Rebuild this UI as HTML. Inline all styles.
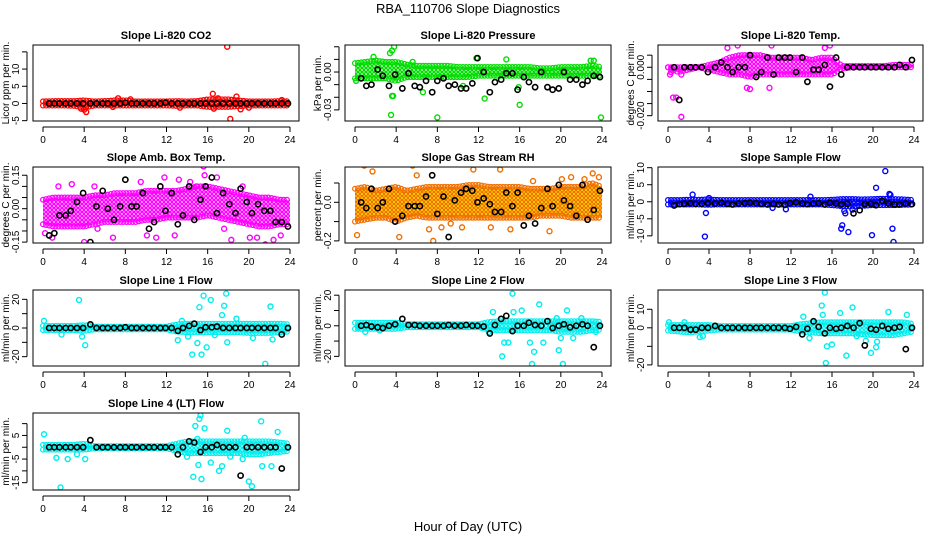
<!DOCTYPE html>
<html><head><meta charset="utf-8"><style>
body{margin:0;background:#fff}
svg{display:block;font-family:"Liberation Sans",sans-serif}
</style></head><body>
<svg id="chart" width="936" height="540" viewBox="0 0 936 540" xmlns="http://www.w3.org/2000/svg">
<rect width="936" height="540" fill="#fff"/>
<text x="468" y="13" text-anchor="middle" font-size="13">RBA_110706  Slope Diagnostics</text>
<text x="468" y="531" text-anchor="middle" font-size="13">Hour of Day (UTC)</text>
</svg>
<script>
const hours = [0,1,2,3,4,5,6,7,8,9,10,11,12,13,14,15,16,17,18,19,20,21,22,23,24];
const blackHours = [0.6,1.1,1.6,2.2,2.7,3.3,3.9,4.6,5.2,5.8,6.3,6.9,7.5,8.0,8.6,9.1,9.7,10.3,10.8,11.4,11.9,12.5,13.1,13.6,14.2,14.7,15.3,15.8,16.4,16.9,17.5,18.1,18.7,19.2,19.8,20.3,20.9,21.5,22.1,22.6,23.2,23.8];
const xTicks = [0,4,8,12,16,20,24];

// Panel 1: CO2
const co2Lo = [-0.6,-0.6,-0.6,-0.7,-1.2,-0.6,-0.6,-0.6,-0.6,-0.6,-0.6,-0.6,-0.6,-0.7,-0.6,-0.6,-1.0,-1.0,-1.0,-0.8,-0.6,-0.6,-0.6,-0.6,-0.6];
const co2Hi = [0.6,0.7,0.7,0.7,0.9,0.6,0.7,0.9,0.9,0.6,0.6,0.6,0.6,0.7,0.6,0.7,1.2,1.2,1.2,0.9,0.6,0.6,0.6,0.7,0.6];
const co2OutX = [17.9,18.2,16.5,4.2,4.0,3.7,7.3,8.5,18.8,19.2,16.6,13.3,23.2,20.0,6.8,17.0];
const co2OutY = [16.5,-4.5,2.8,-2.5,-1.8,-1.5,1.5,1.2,2.0,-1.7,-1.5,-1.2,1.0,-1.2,-1.0,1.5];
const co2Black = [0,0,0,0,0,0,0,0,0,0,0,0,0,0.2,0,0,0,0,0,0,0.2,0,0,0,0,0,0,0,0,0,0,0,0,0,0,0,0,0,0,0,0,0];

// Panel 2: Pressure
const prLo = [-0.005,-0.005,-0.005,-0.005,-0.007,-0.004,-0.004,-0.004,-0.004,-0.004,-0.004,-0.004,-0.003,-0.003,-0.003,-0.003,-0.003,-0.003,-0.003,-0.003,-0.003,-0.003,-0.003,-0.003,-0.003];
const prHi = [0.007,0.008,0.009,0.008,0.008,0.006,0.005,0.005,0.005,0.005,0.004,0.004,0.004,0.004,0.004,0.004,0.004,0.004,0.003,0.003,0.004,0.004,0.004,0.005,0.004];
const prOutX = [3.5,8.0,23.9,16.0,12.6,3.6,3.7,3.6,3.8,11.8,14.7,6.6,0.1,23.2,22.9,1.8,3.4,15.9,10.5,5.6];
const prOutY = [-0.034,-0.036,-0.036,-0.026,-0.021,-0.019,-0.019,0.017,0.020,0.011,0.010,-0.016,-0.007,0.009,0.009,0.012,0.015,-0.012,-0.011,0.008];
const prBlack = [-0.005,-0.011,-0.01,0.002,-0.003,-0.011,-0.002,-0.013,-0.001,-0.011,-0.012,-0.007,-0.016,-0.007,-0.005,-0.011,-0.01,-0.013,-0.013,-0.009,0.011,0,-0.016,-0.008,-0.006,-0.001,-0.001,-0.014,-0.004,-0.008,-0.012,0,-0.012,-0.014,-0.013,0,-0.006,-0.006,-0.01,-0.007,-0.003,-0.004];

// Panel 3: Li-820 Temp
const tLo = [0,-0.002,-0.001,0,-0.001,-0.002,-0.003,-0.003,-0.004,-0.003,-0.003,-0.003,-0.003,-0.003,-0.003,-0.003,-0.003,-0.0005,0,0,0,0,0,0,0];
const tHi = [0,0,0,0,0.001,0.002,0.004,0.005,0.005,0.005,0.004,0.004,0.004,0.004,0.003,0.004,0.004,0.0005,0.0005,0.0005,0.0005,0.0005,0.001,0.001,0.001];
const tOutX = [0.5,0.8,1.3,0.2,1.3,6.8,15.8,7.7,8.0,9.9,0.3,15.3,5.8,10.1];
const tOutY = [-0.0125,-0.0125,-0.0205,-0.003,-0.003,0.009,0.009,-0.0085,-0.009,-0.0085,-0.002,0.008,0.008,0.009];
const tBlack = [0,-0.0135,0,0,0,0,-0.002,0,0.002,0,-0.002,0,0,0.005,-0.004,-0.002,0.004,-0.003,0.004,0.004,0.004,-0.002,0.004,-0.006,-0.001,-0.001,0.001,-0.008,0.004,-0.003,0,0,0,0,0,0,0,0,0,0.001,0,0.003];

// Panel 4: Amb. Box Temp
const abLo = [-0.07,-0.08,-0.08,-0.08,-0.08,-0.07,-0.06,-0.06,-0.06,-0.06,-0.05,-0.05,-0.04,-0.04,-0.04,-0.04,-0.03,-0.04,-0.05,-0.06,-0.07,-0.08,-0.08,-0.07,-0.07];
const abHi = [0.04,0.05,0.05,0.05,0.05,0.06,0.06,0.07,0.07,0.07,0.08,0.08,0.08,0.08,0.09,0.1,0.1,0.09,0.08,0.07,0.06,0.05,0.05,0.04,0.04];
const abOutX = [0.2,0.9,1.5,2.8,4.0,5.3,6.8,7.9,8.7,10.1,11.0,11.8,12.8,13.2,14.9,15.6,15.7,16.9,17.6,18.3,19.4,20.1,20.8,21.6,22.4,23.1,23.6,5.0,9.5,14.3];
const abOutY = [-0.11,-0.13,0.1,0.11,-0.15,-0.09,-0.13,-0.18,-0.17,-0.12,-0.13,0.14,-0.12,0.13,0.1,0.19,0.15,0.14,-0.09,-0.14,0.1,-0.13,-0.13,-0.16,-0.14,-0.12,-0.17,0.1,0.12,0.12];
const abBlack = [-0.12,-0.11,-0.03,-0.03,-0.01,0.03,0.07,-0.15,0.01,0.08,0,-0.05,0.01,0.13,0.01,0.01,0.07,-0.09,-0.06,0.1,-0.01,0.07,-0.07,-0.03,0.1,-0.05,0.04,0.1,0.14,-0.02,0.07,0.02,-0.02,0.09,0.03,-0.02,0.02,-0.01,-0.01,-0.06,-0.06,-0.08];

// Panel 5: Gas Stream RH
const rhLo = [-0.1,-0.09,-0.08,-0.08,-0.1,-0.08,-0.07,-0.08,-0.08,-0.08,-0.08,-0.08,-0.08,-0.08,-0.08,-0.08,-0.08,-0.08,-0.07,-0.07,-0.07,-0.08,-0.08,-0.08,-0.08];
const rhHi = [0.07,0.08,0.06,0.07,0.08,0.06,0.07,0.08,0.08,0.08,0.08,0.09,0.09,0.08,0.08,0.08,0.08,0.07,0.07,0.07,0.08,0.08,0.08,0.1,0.08];
const rhOutX = [0.2,0.9,1.7,4.3,5.6,7.2,7.6,8.4,9.3,11.5,12.2,13.2,14.1,15.1,16.4,17.3,18.9,20.1,21.0,22.3,23.1,23.7,6.0,10.4];
const rhOutY = [-0.17,0.19,0.16,-0.18,0.19,-0.14,-0.2,-0.13,-0.11,0.17,0.22,-0.13,0.17,-0.14,-0.12,0.11,-0.15,0.12,0.13,0.12,0.15,0.13,0.14,-0.13];
const rhBlack = [0,-0.03,0.07,-0.03,0,0.07,-0.1,-0.07,-0.02,-0.02,-0.02,0.03,0.14,-0.06,0.03,-0.18,0.01,0.05,0.07,0.06,0,0.02,-0.01,-0.05,-0.05,0.05,-0.02,0.05,-0.12,-0.07,-0.11,-0.03,0.07,-0.02,0.09,0.01,-0.02,-0.07,0.09,-0.09,-0.04,0.06];

// Panel 6: Sample Flow
const sfLo = [-0.8,-0.8,-0.8,-0.8,-0.9,-0.8,-0.8,-0.8,-0.8,-0.8,-0.8,-0.8,-0.8,-0.8,-0.8,-0.8,-1.0,-1.3,-1.4,-1.2,-1.0,-1.0,-1.0,-0.9,-0.8];
const sfHi = [0.5,0.5,0.6,0.6,0.7,0.5,0.5,0.5,0.5,0.5,0.5,0.5,0.5,0.5,0.5,0.5,0.6,0.8,0.8,0.7,0.8,0.9,0.8,0.7,0.5];
const sfOutX = [3.6,3.7,2.4,4.0,10.2,13.9,11.5,16.9,17.0,17.2,17.3,17.6,18.0,20.3,21.2,21.7,21.9,22.0,19.9,21.6];
const sfOutY = [-10.2,-3.3,2.1,1.1,-1.8,1.5,-2.2,-7.9,-6.9,-2.7,-3.4,-8.9,-2.3,4.1,9.0,2.0,-7.9,-11.8,-9.8,2.3];
const sfBlack = [-1.1,-0.7,-0.6,-0.4,-0.6,-0.6,-0.4,-0.5,-0.3,-0.6,-0.8,-0.5,-0.4,-0.3,-0.4,-0.6,-0.8,-0.6,-0.8,-0.9,-0.4,-0.2,-0.5,-0.7,-0.5,-0.4,-0.8,-0.3,-0.5,-0.8,-0.6,-3.4,-2.5,-0.7,-0.6,-1.0,0.3,-0.5,-0.8,-0.8,-0.5,-0.7];

// Panel 7: Line 1 Flow
const l1Lo = [-1.5,-1.5,-1.5,-1.5,-2,-1,-1,-1,-1,-1,-1,-1,-1,-2.5,-3,-3,-3,-3,-3,-3,-3.5,-3.5,-3.5,-3,-2.5];
const l1Hi = [1.5,1.5,1.5,1.5,2,1,1,1,1,1,1,1,1,2.5,3,3,3,3,3,3,3,3,3,3,2.5];
const l1OutX = [0.1,3.5,4.1,3.8,1.8,13.1,13.5,14.5,15.0,15.2,15.4,15.6,15.9,16.3,17.4,17.6,17.8,17.9,18.8,20.4,21.6,22.1,22.3,14.1,16.7];
const l1OutY = [5,19.5,-12,-6,-4.5,-8.5,5,-18.5,-10.5,14.5,-18.5,22.5,-13.5,19.5,9,15.5,24,-10,6.5,-7,-25,15,-8,-6,-5];
const l1Black = [0,0,0,0,0,0,0,2.5,0,0,0,0,0,0.5,0,0,0,0,0,0,0,0,-2,0,1.5,3,-1.5,0.5,0.5,1,0,0,0,0,0,0,0,0,0,0,-4.5,0];

// Panel 8: Line 2 Flow
const l2Lo = [-2,-2,-2,-2,-2,-1,-1,-1,-1,-1,-1,-1,-1,-2.5,-3,-3,-3,-3,-3,-3,-4,-4,-4,-3,-2.5];
const l2Hi = [2,2,2,2,2,1,1,1,1,1,1,1,1,2.5,3,3,3,3,3,3,3,3,3,3,2.5];
const l2OutX = [0.3,1.0,2.4,13.4,14.3,14.5,14.9,15.3,15.4,16.2,17.0,17.2,17.4,17.9,19.6,19.8,20.0,20.2,20.6,21.2,22.0,23.4,13.0,18.3];
const l2OutY = [-1,-4,-3,9,-20,-11,-11,21,9,10,-11,-25,-17,14,5,-16,-8,-25,10,-8,5,-4,-4,-11];
const l2Black = [0,0.5,-0.5,-1,-1.5,0,1,4.5,0.5,0.5,0,0,0,0,0,0.5,0,0,0.5,0,0,-0.5,-5,0.5,4.5,6.5,-3.5,0,0,2,0.5,0,3,-1.5,0,1,-1,0,1,0,-14,0];

// Panel 9: Line 3 Flow
const l3Lo = [-1.5,-2,-2.5,-2,-1.5,-1,-1,-1,-1,-1,-1,-1,-1,-2,-2.5,-3,-3,-3,-3,-3.5,-4,-4,-4,-3,-2];
const l3Hi = [1.5,1.5,1.5,1.5,1.5,1,1,1,1,1,1,1,1,2,2.5,3,3,3,3,3,3,3,3,3,2];
const l3OutX = [0.1,1.6,3.1,3.4,13.2,13.8,15.0,15.1,15.3,15.4,15.5,16.0,16.8,17.4,18.0,18.4,19.3,19.8,20.3,20.4,21.5,23.3];
const l3OutY = [3,3,-5,-4.5,6,-5.5,12,7,19,-19,-10,-9,8,-15,11,-4.5,-7,-13.5,-10.5,-7.5,8.5,7];
const l3Black = [0,0,0,-1,-1,0,0,1,0,0,0,0,0,0,0,0,0,0,0,0,-0.5,0.5,-3.5,-0.5,3.5,0.5,-3,0,-0.5,0,1,0,2.5,-9.5,-0.5,-1,1,-0.5,0,0.5,-11.5,0];

// Panel 10: Line 4 (LT) Flow
const l4Lo = [-1,-1,-1,-1,-1,-0.5,-0.5,-0.5,-0.5,-0.5,-0.5,-0.5,-0.5,-1.5,-2.5,-2.5,-2.5,-2.5,-2.5,-2.5,-3,-3,-2.5,-2,-1.5];
const l4Hi = [1,1,1,1,1.5,0.5,0.5,0.5,0.5,0.5,0.5,0.5,0.5,1.5,2.5,2.5,2.5,2.5,2.5,2.5,2.5,2.5,2.5,2,1.5];
const l4OutX = [0.1,1.3,2.4,3.3,4.1,1.7,13.3,14.0,14.6,14.8,15.1,15.2,15.3,15.4,15.7,16.3,17.1,17.4,17.9,18.2,19.4,19.6,20.0,20.3,21.2,21.3,22.2,22.8,13.1,15.0];
const l4OutY = [5.5,-4.5,-5,-3,-5,-17,-1,-4,-12.5,9,-7.5,12,13.5,-13.5,8,-6.5,-10,-8,7,-4,-5,4,-14.5,-16.5,11,-8,-8,6.5,-3,3.5];
const l4Black = [0,0,0,0,0,0,0,3,0,0,0,0,0,0,0,0,0,0,0,0,0,0,-3,0,2.5,2,-2,0,0,1,0,0,0,-12,0,0,0,0,0,0,-9,0];

const NS = "http://www.w3.org/2000/svg";
const svg = document.getElementById('chart');
const cols = [{l:33,r:299,x0:43,x24:290},{l:345,r:611,x0:355,x24:602},{l:658,r:923,x0:668,x24:914}];
const rows = [{t:45,b:121},{t:167,b:243},{t:290,b:366},{t:413,b:490}];

const panels = [
 {key:'co2',title:'Slope Li-820 CO2',ylab:'Licor ppm per min.',c:0,r:0,vTop:17,vBot:-5.1,ticks:[-5,0,5,10,15],labs:['-5','0','5','10',''],lo:co2Lo,hi:co2Hi,ox:co2OutX,oy:co2OutY,k:co2Black,fill:'#ffb0b0',stroke:'#ff0000'},
 {key:'pressure',title:'Slope Li-820 Pressure',ylab:'kPa per min.',c:1,r:0,vTop:0.0214,vBot:-0.0388,ticks:[-0.03,-0.02,-0.01,0,0.01,0.02],labs:['-0.03','','','0.00','',''],lo:prLo,hi:prHi,ox:prOutX,oy:prOutY,k:prBlack,fill:'#b0f0b0',stroke:'#00dd00'},
 {key:'li820-temp',title:'Slope Li-820 Temp.',ylab:'degrees C per min.',c:2,r:0,vTop:0.0092,vBot:-0.0222,ticks:[-0.02,-0.015,-0.01,-0.005,0,0.005],labs:['-0.020','','','','0.000',''],lo:tLo,hi:tHi,ox:tOutX,oy:tOutY,k:tBlack,fill:'#ffb0ff',stroke:'#ff00ff'},
 {key:'amb-box-temp',title:'Slope Amb. Box Temp.',ylab:'degrees C per min.',c:0,r:1,vTop:0.187,vBot:-0.154,ticks:[-0.15,-0.1,-0.05,0,0.05,0.1,0.15],labs:['-0.15','','','0.00','','','0.15'],lo:abLo,hi:abHi,ox:abOutX,oy:abOutY,k:abBlack,fill:'#ffb0ff',stroke:'#ff00ff'},
 {key:'gas-stream-rh',title:'Slope Gas Stream RH',ylab:'percent per min.',c:1,r:1,vTop:0.183,vBot:-0.211,ticks:[-0.2,-0.1,0,0.1],labs:['-0.2','','0.0',''],lo:rhLo,hi:rhHi,ox:rhOutX,oy:rhOutY,k:rhBlack,fill:'#ffe000',stroke:'#f07000'},
 {key:'sample-flow',title:'Slope Sample Flow',ylab:'ml/min per min.',c:2,r:1,vTop:10.2,vBot:-12.1,ticks:[-10,-5,0,5,10],labs:['-10','-5','0','5','10'],lo:sfLo,hi:sfHi,ox:sfOutX,oy:sfOutY,k:sfBlack,fill:'#8080ff',stroke:'#0000ff'},
 {key:'line1-flow',title:'Slope Line 1 Flow',ylab:'ml/min per min.',c:0,r:2,vTop:26.5,vBot:-26.5,ticks:[-20,-10,0,10,20],labs:['-20','','0','','20'],lo:l1Lo,hi:l1Hi,ox:l1OutX,oy:l1OutY,k:l1Black,fill:'#a0ffff',stroke:'#00eeee'},
 {key:'line2-flow',title:'Slope Line 2 Flow',ylab:'ml/min per min.',c:1,r:2,vTop:23.4,vBot:-26.3,ticks:[-20,-10,0,10,20],labs:['-20','','0','','20'],lo:l2Lo,hi:l2Hi,ox:l2OutX,oy:l2OutY,k:l2Black,fill:'#a0ffff',stroke:'#00eeee'},
 {key:'line3-flow',title:'Slope Line 3 Flow',ylab:'ml/min per min.',c:2,r:2,vTop:20.4,vBot:-20.6,ticks:[-20,-10,0,10],labs:['-20','','0','10'],lo:l3Lo,hi:l3Hi,ox:l3OutX,oy:l3OutY,k:l3Black,fill:'#a0ffff',stroke:'#00eeee'},
 {key:'line4-flow',title:'Slope Line 4 (LT) Flow',ylab:'ml/min per min.',c:0,r:3,vTop:14.5,vBot:-18.1,ticks:[-15,-10,-5,0,5,10],labs:['-15','','-5','','5',''],lo:l4Lo,hi:l4Hi,ox:l4OutX,oy:l4OutY,k:l4Black,fill:'#a0ffff',stroke:'#00eeee'}
];

function mk(tag, attrs, parent){
  const e=document.createElementNS(NS,tag);
  for(const a in attrs) e.setAttribute(a,attrs[a]);
  (parent||svg).appendChild(e); return e;
}
function interp(arr,h){const i=Math.min(23,Math.floor(h));const f=h-i;return arr[i]*(1-f)+arr[i+1]*f;}
const defs=mk('defs',{});

panels.forEach(p=>{
  const C=cols[p.c], R=rows[p.r];
  const xs=h=>C.x0+(C.x24-C.x0)*h/24;
  const ys=v=>R.t+(p.vTop-v)/(p.vTop-p.vBot)*(R.b-R.t);
  // ring pattern to mimic dense overplotted circles
  const pat=mk('pattern',{id:'pat-'+p.key,width:4,height:4,patternUnits:'userSpaceOnUse'},defs);
  mk('rect',{width:4,height:4,fill:p.fill},pat);
  mk('circle',{cx:2,cy:2,r:1.6,fill:'none',stroke:p.stroke,'stroke-width':1.1},pat);
  const g=mk('g',{});
  
  
  const clip=mk('clipPath',{id:'clip-'+p.key},g);
  mk('rect',{x:C.l,y:R.t,width:C.r-C.l,height:R.b-R.t},clip);
  const pg=mk('g',{'clip-path':'url(#clip-'+p.key+')'},g);
  
  
  let d='';
  hours.forEach((h,i)=>{d+=(i?'L':'M')+xs(h).toFixed(1)+' '+ys(p.hi[i]).toFixed(1);});
  for(let i=hours.length-1;i>=0;i--) d+='L'+xs(hours[i]).toFixed(1)+' '+ys(p.lo[i]).toFixed(1);
  const band=mk('path',{d:d+'Z',fill:'url(#pat-'+p.key+')',stroke:'none'},pg);
  
  
  for(let h=0;h<=24;h+=0.3){
    [p.hi,p.lo].forEach(arr=>{
      const c=mk('circle',{cx:xs(h),cy:ys(interp(arr,h)),r:2.4,fill:'none',stroke:p.stroke,'stroke-width':1.2},pg);
      
      
    });
  }
  p.ox.forEach((x,i)=>{
    const c=mk('circle',{cx:xs(x),cy:ys(p.oy[i]),r:2.5,fill:'none',stroke:p.stroke,'stroke-width':1.4},pg);
    
    
  });
  blackHours.forEach((x,i)=>{
    const c=mk('circle',{cx:xs(x),cy:ys(p.k[i]),r:2.6,fill:'none',stroke:'#000','stroke-width':1.6},pg);
    
    
  });
  const box=mk('rect',{x:C.l,y:R.t,width:C.r-C.l,height:R.b-R.t,fill:'none',stroke:'#000','stroke-width':1},g);
  
  
  const tt=mk('text',{x:(C.l+C.r)/2,y:R.t-6,'text-anchor':'middle','font-size':11,'font-weight':'bold'},g);
  tt.textContent=p.title;
  
  
  const xa=mk('g',{},g);
  
  
  mk('line',{x1:xs(0),x2:xs(24),y1:R.b+6,y2:R.b+6,stroke:'#000'},xa);
  xTicks.forEach(t=>{
    mk('line',{x1:xs(t),x2:xs(t),y1:R.b+6,y2:R.b+11,stroke:'#000'},xa);
    const tl=mk('text',{x:xs(t),y:R.b+22,'text-anchor':'middle','font-size':10},xa);
    tl.textContent=t;
    
    
  });
  const ya=mk('g',{},g);
  
  
  const ax=C.l-6;
  mk('line',{x1:ax,x2:ax,y1:ys(p.ticks[0]),y2:ys(p.ticks[p.ticks.length-1]),stroke:'#000'},ya);
  p.ticks.forEach((t,i)=>{
    mk('line',{x1:ax-5,x2:ax,y1:ys(t),y2:ys(t),stroke:'#000'},ya);
    if(p.labs[i]){
      const tl=mk('text',{x:0,y:0,'text-anchor':'middle','font-size':10,transform:'translate('+(ax-8)+','+ys(t)+') rotate(-90)'},ya);
      tl.textContent=p.labs[i];
      
      
    }
  });
  const yl=mk('text',{x:0,y:0,'text-anchor':'middle','font-size':10,transform:'translate('+(C.l-24)+','+((R.t+R.b)/2)+') rotate(-90)'},g);
  yl.textContent=p.ylab;
  
  
});
</script>
</body></html>
